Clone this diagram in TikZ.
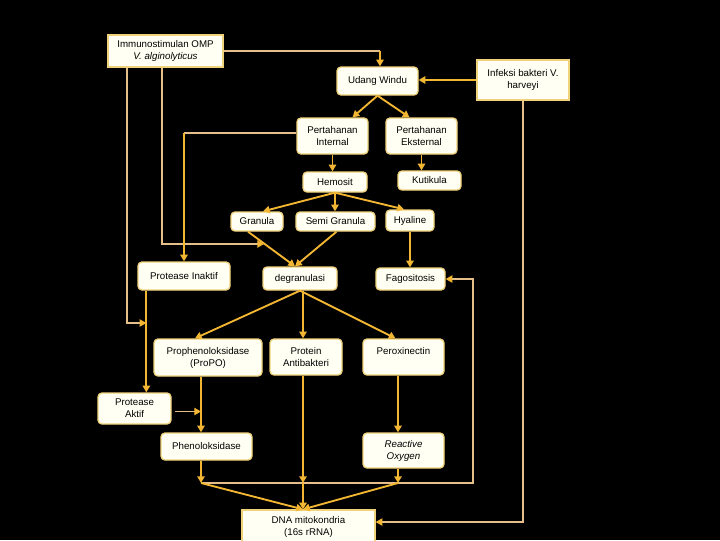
\documentclass[tikz,border=0pt]{standalone}
\usepackage{fontspec}
\setmainfont{Liberation Sans}
\usetikzlibrary{arrows.meta,calc}
\definecolor{arrc}{HTML}{F2B632}
\definecolor{thinc}{HTML}{E6BE8A}
\definecolor{boxd}{HTML}{F0D27A}
\definecolor{boxf}{HTML}{FFFFF4}
\tikzset{
 box/.style={draw=boxd, fill=boxf, line width=1pt, inner sep=0pt, align=center, font=\fontsize{7.3}{9}\selectfont, text=black},
 rbox/.style={box, rounded corners=3pt},
 thk/.style={draw=arrc, line width=1.4pt},
 thn/.style={draw=thinc, line width=0.8pt},
 tip/.style={-{Triangle[length=5pt,width=5.5pt,color=arrc]}},
}
\newcommand\bx[7]{\node[#7, minimum width={(#4-#2)*0.75pt}, minimum height={(#5-#3)*0.75pt}] (#1) at ({(#2+#4)/2},{(#3+#5)/2}) {#6};}
\begin{document}
\begin{tikzpicture}[x=0.75pt,y=-0.75pt]
\fill[black] (0,0) rectangle (720,540);
\useasboundingbox (0,0) rectangle (720,540);
\bx{omp}{108}{35}{223}{67}{Immunostimulan OMP\\\textit{V. alginolyticus}}{box}
\bx{udang}{337}{67}{418}{95}{Udang Windu}{rbox}
\bx{infeksi}{477}{60}{569}{100}{Infeksi bakteri V.\\harveyi}{box}
\bx{pint}{297}{118}{368}{154}{Pertahanan\\Internal}{rbox}
\bx{pext}{386}{118}{457}{154}{Pertahanan\\Eksternal}{rbox}
\bx{hemosit}{303}{172}{367}{192}{Hemosit}{rbox}
\bx{kutikula}{398}{171}{461}{190}{Kutikula}{rbox}
\bx{granula}{231}{212}{283}{231}{Granula}{rbox}
\bx{semi}{296}{212}{375}{231}{Semi Granula}{rbox}
\bx{hyaline}{386}{210}{434}{231}{Hyaline}{rbox}
\bx{pinaktif}{138}{262}{230}{290}{Protease Inaktif}{rbox}
\bx{degran}{263}{267}{337}{290}{degranulasi}{rbox}
\bx{fago}{376}{268}{445}{290}{Fagositosis}{rbox}
\bx{propo}{154}{339}{262}{376}{Prophenoloksidase\\(ProPO)}{rbox}
\bx{protein}{270}{339}{342}{375}{Protein\\Antibakteri}{rbox}
\bx{perox}{363}{339}{444}{375}{Peroxinectin\\\mbox{}}{rbox}
\bx{paktif}{98}{393}{171}{424}{Protease\\Aktif}{rbox}
\bx{pheno}{161}{433}{252}{460}{Phenoloksidase}{rbox}
\bx{reactive}{363}{433}{444}{468}{\textit{Reactive}\\\textit{Oxygen}}{rbox}
\bx{dna}{242}{510}{375}{544}{DNA mitokondria\\(16s rRNA)}{box}
% connectors
\coordinate (a1) at (380,51);
\draw[thn] (omp.east) -- (a1);
\draw[thk,tip] (a1) -- (a1 |- udang.north);
\draw[thk,tip] (infeksi.west) -- (udang.east |- infeksi.west);
\coordinate (a2) at (523,522);
\draw[thn,tip] (infeksi.south) -- (infeksi.south |- a2) -- (dna.east |- a2);
\draw[thk,tip] (udang.south) -- ($(pint.north)+(20,0)$);
\draw[thk,tip] (udang.south) -- ($(pext.north)+(-12,0)$);
\draw[thk,tip] (pint.south) -- (pint.south |- hemosit.north);
\draw[thk,tip] (pext.south) -- (pext.south |- kutikula.north);
\draw[thk,tip] (hemosit.south) -- ($(granula.north)+(6,0)$);
\draw[thk,tip] (hemosit.south) -- (hemosit.south |- semi.north);
\draw[thk,tip] (hemosit.south) -- ($(hyaline.north)+(-6,0)$);
\coordinate (dg) at ($(degran.north)+(-5,0)$);
\draw[thk,tip] ($(granula.south)+(-9,0)$) -- (dg);
\draw[thk,tip] ($(semi.south)+(1,0)$) -- (dg);
\coordinate (b1) at (162,244);
\coordinate (b2) at (264,244);
\draw[thn,tip] (omp.south -| b1) -- (b1) -- (b2);
\coordinate (e0) at ($(pinaktif.south west)+(9,0)$);
\coordinate (b3) at (127,323);
\draw[thn,tip] (omp.south -| b3) -- (b3) -- (b3 -| e0);
\coordinate (b5) at ($(pint.west)+(0,-3)$);
\coordinate (b4) at (b5 -| pinaktif.north);
\draw[thn] (b5) -- (b4);
\draw[thk,tip] (b4) -- (pinaktif.north);
\draw[thk,tip] (hyaline.south) -- (hyaline.south |- fago.north);
\coordinate (c5) at (473,483);
\coordinate (f0) at (201,483);
\coordinate (g0) at (398,483);
\draw[thn,tip] (f0) -- (c5) -- (c5 |- fago.east) -- (fago.east);
\draw[thk,tip] (degran.south) -- ($(propo.north)+(-13,0)$);
\coordinate (d0) at ($(degran.south)+(3,0)$);
\draw[thk,tip] (d0) -- (d0 |- protein.north);
\draw[thk,tip] (degran.south) -- ($(perox.north)+(-8,0)$);
\draw[thk,tip] (e0) -- (e0 |- paktif.north);
\draw[thk,tip] (f0 |- propo.south) -- (f0 |- pheno.north);
\coordinate (h0) at ($(paktif.east)+(3,3)$);
\draw[thn,tip] (h0) -- (h0 -| f0);
\draw[thk,tip] (g0 |- perox.south) -- (g0 |- reactive.north);
\draw[thk,tip] (f0 |- pheno.south) -- (f0);
\draw[thk,tip] (g0 |- reactive.south) -- (g0);
\coordinate (dn) at (d0 |- dna.north);
\draw[thk,tip] (f0) -- (dn);
\draw[thk,tip] (g0) -- (dn);
\draw[thk,tip] (d0 |- protein.south) -- (d0 |- f0);
\draw[thk,tip] (d0 |- f0) -- (dn);
\end{tikzpicture}
\end{document}
